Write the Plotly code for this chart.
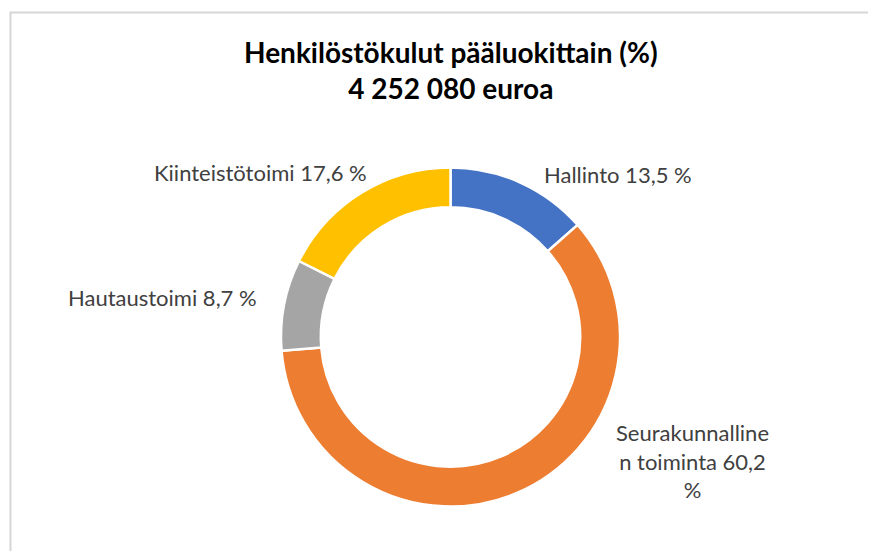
import plotly.graph_objects as go

categories = ["Hallinto", "Seurakunnallinen toiminta", "Hautaustoimi", "Kiinteistötoimi"]
values = [13.5, 60.2, 8.7, 17.6]
colors = ["#4472C4", "#ED7D31", "#A5A5A5", "#FFC000"]
label_texts = ["Hallinto 13,5 %", "Seurakunnalline<br>n toiminta 60,2<br>%", "Hautaustoimi 8,7 %", "Kiinteistötoimi 17,6 %"]
title_lines = ["Henkilöstökulut pääluokittain (%)", "4 252 080 euroa"]

OFF = 8  # page body margin offset
W, H = 876 - 2 * OFF, 559 - 2 * OFF
cx, cy, r = 450.5, 337, 169.5

def px(x):
    return (x - OFF) / W

def py(y):
    return 1 - (y - OFF) / H

FONT = "Lato, Open Sans, sans-serif"

fig = go.Figure(go.Pie(
    labels=categories, values=values, sort=False, direction="clockwise", rotation=0,
    hole=0.765, marker=dict(colors=colors, line=dict(color="white", width=2.5)),
    textinfo="none", hoverinfo="skip", showlegend=False,
    domain=dict(x=[px(cx - r), px(cx + r)], y=[py(cy + r), py(cy - r)]),
))

label_pos = [(618, 174), (692, 461), (162, 297), (260, 172)]
annotations = []
for txt, (x, y) in zip(label_texts, label_pos):
    annotations.append(dict(text=txt, x=px(x), y=py(y), xref="paper", yref="paper",
                            xanchor="center", yanchor="middle", showarrow=False,
                            font=dict(family=FONT, size=22, color="#404040")))
annotations.append(dict(text="<br>".join("<b>" + t + "</b>" for t in title_lines),
                        x=px(451), y=py(70.5), xref="paper", yref="paper",
                        xanchor="center", yanchor="middle", showarrow=False,
                        font=dict(family=FONT, size=28, color="#000000")))

border = dict(color="#D6D6D6", width=2)
fig.update_layout(
    width=W, height=H, margin=dict(l=0, r=0, t=0, b=0),
    paper_bgcolor="white", plot_bgcolor="white",
    annotations=annotations,
    shapes=[
        dict(type="path", xref="paper", yref="paper",
             path=f"M {px(10.5)},0 L {px(10.5)},{py(12.5)} L 1,{py(12.5)}", line=border),
    ],
)
fig.write_html("out.html", config={"displayModeBar": False})
